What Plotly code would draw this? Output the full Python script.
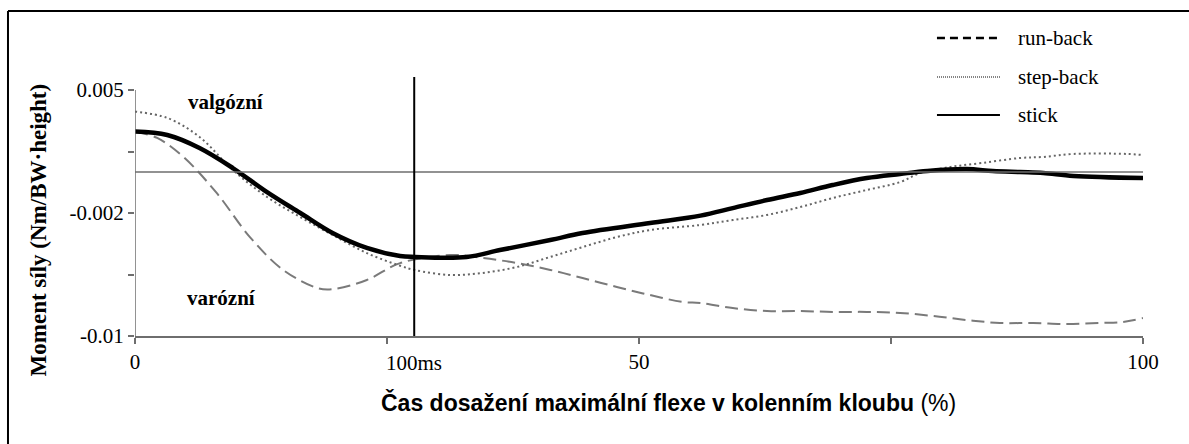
import plotly.graph_objects as go

# ---------------- data ----------------
stick_x = [0, 3.2, 6.4, 9.7, 13.1, 16.4, 19.6, 23.0, 26.3, 27.8, 32.9, 36.2, 41.2, 44.4, 51.1, 56.1, 59.3,
           62.7, 66.0, 69.2, 72.6, 75.9, 78.6, 82.5, 85.1, 87.8, 90.1, 93.1, 100]
stick_y = [0.00264, 0.00244, 0.00170, 0.00056, -0.00081, -0.00200, -0.00314, -0.00399, -0.00445, -0.00450,
           -0.00450, -0.00411, -0.00354, -0.00314, -0.00257, -0.00215, -0.00172, -0.00126, -0.00086, -0.00041,
           -0.00001, 0.00022, 0.00039, 0.00050, 0.00039, 0.00033, 0.00028, 0.00011, -0.00001]

step_x = [0, 3.2, 6.4, 9.7, 13.1, 16.4, 19.6, 23.0, 26.3, 27.8, 31.3, 34.5, 37.9, 41.2, 44.4, 47.8, 51.1,
          56.1, 59.3, 62.7, 66.0, 69.2, 72.6, 75.9, 77.9, 80.9, 84.1, 87.8, 90.1, 93.1, 98.4, 100]
step_y = [0.00377, 0.00341, 0.00233, 0.00045, -0.00109, -0.00223, -0.00325, -0.00428, -0.00500, -0.00525,
          -0.00553, -0.00541, -0.00507, -0.00450, -0.00394, -0.00337, -0.00297, -0.00268, -0.00240, -0.00211,
          -0.00166, -0.00115, -0.00069, -0.00024, 0.00028, 0.00062, 0.00085, 0.00113, 0.00119, 0.00136,
          0.00136, 0.00130]

run_x = [0, 2.2, 4.8, 8.1, 11.4, 14.7, 18.1, 19.6, 23.0, 26.3, 31.3, 34.5, 37.9, 41.2, 44.4, 47.8, 51.1,
         54.4, 56.1, 59.3, 62.7, 66.0, 69.2, 72.6, 75.9, 79.2, 82.5, 85.8, 89.1, 92.5, 95.7, 98.0, 100]
run_y = [0.00264, 0.00227, 0.00119, -0.00086, -0.00337, -0.00524, -0.00627, -0.00633, -0.00581, -0.00485,
         -0.00439, -0.00456, -0.00485, -0.00524, -0.00570, -0.00621, -0.00667, -0.00707, -0.00712, -0.00741,
         -0.00758, -0.00758, -0.00763, -0.00763, -0.00769, -0.00786, -0.00809, -0.00826, -0.00826, -0.00832,
         -0.00826, -0.00820, -0.00798]

x_tickvals = [0, 25, 50, 75, 100]
x_ticktext = ["0", "", "50", "", "100"]
y_tickvals = [0.005, 0.0015, -0.002, -0.0055, -0.009]
y_ticktext = ["0.005", "", "-0.002", "", "-0.01"]

baseline_y = 0.00033
marker_x = 27.7          # 100 ms
marker_label = "100ms"
y_min, y_max = -0.009, 0.00574

legend_names = ["run-back", "step-back", "stick"]

SERIF = "Liberation Serif, Times New Roman, serif"
SANS = "Liberation Sans, Arial, sans-serif"

fig = go.Figure()

fig.add_trace(go.Scatter(x=run_x, y=run_y, mode="lines", name="run-back", line_shape="spline",
                         line=dict(color="#7a7a7a", width=2, dash="13px,6px")))
fig.add_trace(go.Scatter(x=step_x, y=step_y, mode="lines", name="step-back", line_shape="spline",
                         line=dict(color="#666666", width=2, dash="2px,3px")))
fig.add_trace(go.Scatter(x=stick_x, y=stick_y, mode="lines", name="stick", line_shape="spline",
                         line=dict(color="black", width=4.5)))

shapes = []
# zero baseline
shapes.append(dict(type="line", xref="x", yref="y", x0=0, x1=100, y0=baseline_y, y1=baseline_y,
                   line=dict(color="#6e6e6e", width=1.5)))
# y axis line
shapes.append(dict(type="line", xref="x", yref="y", x0=0, x1=0, y0=y_min, y1=0.005,
                   line=dict(color="#6e6e6e", width=1.5)))
# 100 ms marker
shapes.append(dict(type="line", xref="x", yref="y", x0=marker_x, x1=marker_x, y0=y_min, y1=y_max,
                   line=dict(color="black", width=2)))
# frame (left and top)
shapes.append(dict(type="line", xref="paper", yref="paper", x0=-0.126, x1=-0.126, y0=-0.45, y1=1.2548,
                   line=dict(color="black", width=2)))
shapes.append(dict(type="line", xref="paper", yref="paper", x0=-0.126, x1=1.06, y0=1.2548, y1=1.2548,
                   line=dict(color="black", width=2)))

# custom legend
leg_y = [1.1506, 1.0, 0.8533]
leg_dash = ["8px,5px", "1px,1px", "solid"]
leg_w = [2.5, 1.2, 2]
annotations = []
for name, ly, d, w in zip(legend_names, leg_y, leg_dash, leg_w):
    shapes.append(dict(type="line", xref="paper", yref="paper", x0=0.7956, x1=0.8581, y0=ly, y1=ly,
                       line=dict(color="black", width=w, dash=d)))
    annotations.append(dict(xref="paper", yref="paper", x=0.874, y=ly, text=name, showarrow=False,
                            xanchor="left", yanchor="middle", font=dict(family=SERIF, size=21, color="black")))

annotations += [
    dict(xref="x", yref="y", x=9.0, y=0.00432, text="<b>valgózní</b>", showarrow=False,
         font=dict(family=SERIF, size=21, color="black")),
    dict(xref="x", yref="y", x=8.6, y=-0.00684, text="<b>varózní</b>", showarrow=False,
         font=dict(family=SERIF, size=21, color="black")),
    dict(xref="x", yref="paper", x=marker_x, y=0, yshift=-27, yanchor="middle", text=marker_label,
         showarrow=False, font=dict(family=SERIF, size=21, color="black")),
    dict(xref="paper", yref="paper", x=-0.11, y=0.41, text="<b>Moment síly (Nm/BW·height)</b>",
         textangle=-90, showarrow=False, font=dict(family=SERIF, size=23, color="black")),
    dict(xref="paper", yref="paper", x=0.529, y=-0.255, yanchor="middle",
         text="<b>Čas dosažení maximální flexe v kolenním kloubu</b> (%)", showarrow=False,
         font=dict(family=SANS, size=23, color="black")),
]

fig.update_layout(
    width=1189, height=444,
    margin=dict(l=135, r=46, t=77, b=108),
    paper_bgcolor="white", plot_bgcolor="white",
    showlegend=False,
    shapes=shapes,
    annotations=annotations,
    xaxis=dict(range=[0, 100], tickvals=x_tickvals, ticktext=x_ticktext, showgrid=False, zeroline=False,
               showline=True, linecolor="#6e6e6e", linewidth=1.5, ticks="outside", ticklen=6,
               tickcolor="#6e6e6e", tickwidth=1.5,
               tickfont=dict(family=SERIF, size=21, color="black")),
    yaxis=dict(range=[y_min, y_max], tickvals=y_tickvals, ticktext=y_ticktext, showgrid=False,
               zeroline=False, showline=False, ticks="outside", ticklen=6, tickcolor="#6e6e6e",
               tickwidth=1.5, tickfont=dict(family=SERIF, size=21, color="black")),
)

fig.write_html("out.html")
